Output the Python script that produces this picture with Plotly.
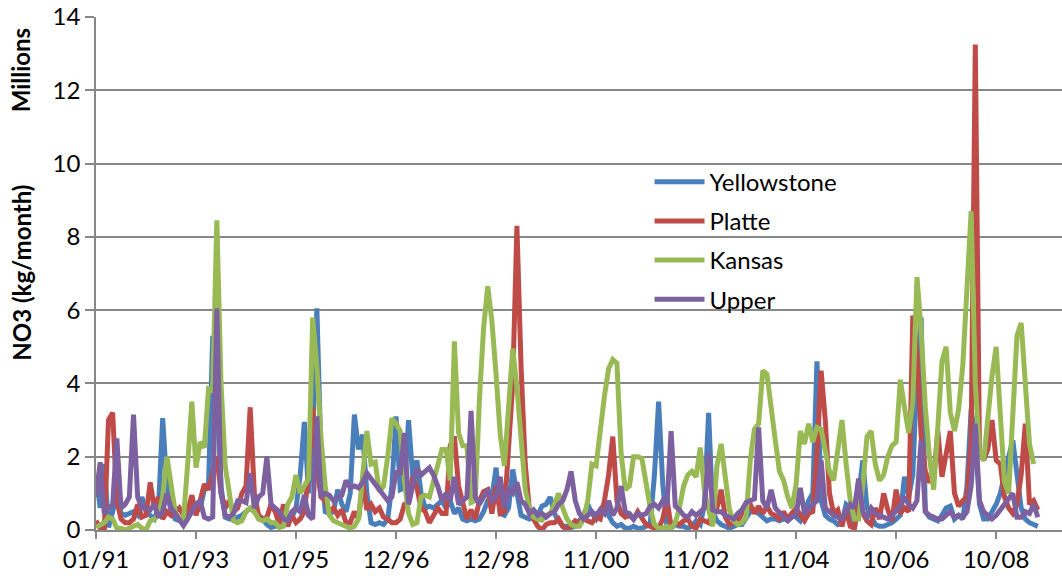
import plotly.graph_objects as go

# Monthly nitrate loads (millions of kg per month), one value per month
yellowstone = [
    1.5, 0.6, 1.8, 0.07, 0.5, 1.0, 0.45, 0.4, 0.45, 0.5,
    0.4, 0.9, 0.5, 0.4, 0.3, 0.6, 3.05, 1.2, 0.5, 0.3,
    0.25, 0.3, 0.4, 0.6, 0.5, 0.6, 1.1, 1.2, 5.3, 4.0,
    1.2, 0.35, 0.3, 0.3, 0.35, 0.4, 0.5, 0.6, 0.5, 0.4,
    0.3, 0.15, 0.07, 0.1, 0.25, 0.3, 0.2, 0.35, 0.6, 1.5,
    2.95, 1.0, 2.5, 6.05, 2.0, 0.5, 0.45, 0.5, 1.1, 0.7,
    0.5, 1.0, 3.15, 2.2, 2.6, 1.0, 0.2, 0.15, 0.2, 0.15,
    0.3, 1.2, 3.1, 1.1, 1.15, 3.0, 1.45, 1.9, 1.0, 0.6,
    0.65, 0.6, 0.7, 0.8, 0.6, 0.8, 0.45, 0.6, 0.3, 0.25,
    0.3, 0.25, 0.3, 0.5, 0.8, 0.9, 1.7, 0.45, 0.4, 0.6,
    1.65, 1.0, 0.4, 0.35, 0.3, 0.35, 0.4, 0.65, 0.7, 0.9,
    0.45, 0.25, 0.1, 0.1, 0.07, 0.1, 0.25, 0.4, 0.7, 0.45,
    0.3, 0.55, 0.7, 0.4, 0.2, 0.1, 0.15, 0.05, 0.05, 0.1,
    0.05, 0.05, 0.1, 0.2, 1.5, 3.5, 1.25, 0.1, 0.05, 0.15,
    0.1, 0.1, 0.05, 0.1, 0.25, 0.15, 0.7, 3.2, 0.5, 0.25,
    0.15, 0.1, 0.05, 0.1, 0.15, 0.15, 0.35, 0.5, 0.55, 0.45,
    0.35, 0.25, 0.3, 0.3, 0.25, 0.3, 0.3, 0.45, 0.35, 0.25,
    0.5, 0.8, 1.0, 4.6, 0.8, 0.4, 0.3, 0.25, 0.15, 0.2,
    0.7, 0.6, 0.05, 1.0, 1.9, 0.6, 0.35, 0.15, 0.1, 0.1,
    0.15, 0.2, 0.3, 0.4, 1.45, 0.9, 1.5, 4.3, 5.8, 0.5,
    0.35, 0.3, 0.25, 0.4, 0.6, 0.65, 0.3, 0.4, 0.3, 1.2,
    3.3, 2.45, 0.7, 0.3, 0.3, 0.5, 0.7, 1.0, 1.55, 2.0,
    2.45, 1.5, 0.6, 0.3, 0.2, 0.15, 0.1,
]

platte = [
    0.25, 0.05, 0.05, 3.0, 3.2, 0.8, 0.3, 0.2, 0.2, 0.3,
    0.7, 0.35, 0.4, 1.3, 0.6, 0.9, 0.3, 0.5, 0.4, 0.5,
    0.6, 0.4, 0.5, 0.95, 0.4, 0.8, 1.25, 1.1, 1.5, 2.0,
    1.0, 0.6, 0.8, 0.5, 0.6, 1.0, 1.2, 3.35, 1.0, 0.4,
    0.3, 0.35, 0.7, 0.5, 0.15, 0.7, 0.1, 0.4, 0.2, 0.3,
    0.5, 1.5, 3.35, 1.7, 0.9, 0.8, 0.5, 0.6, 0.4, 0.55,
    0.2, 0.2, 0.5, 0.3, 1.3, 0.55, 0.7, 0.5, 0.6, 0.35,
    0.3, 0.2, 0.2, 0.3, 0.7, 0.75, 1.45, 1.15, 0.6, 0.5,
    0.2, 0.4, 0.6, 0.45, 0.45, 2.3, 2.55, 1.2, 0.8, 0.3,
    0.55, 0.3, 0.8, 1.05, 1.1, 0.45, 1.2, 0.45, 0.5, 2.1,
    4.0, 8.3, 4.45, 1.8, 0.55, 0.3, 0.1, 0.0, 0.15, 0.2,
    0.2, 0.3, 0.1, 0.0, 0.15, 0.25, 0.2, 0.3, 0.25, 0.2,
    0.35, 0.3, 0.8, 1.5, 2.55, 0.8, 0.45, 0.35, 0.4, 0.3,
    0.5, 0.35, 0.15, 0.1, 0.05, 0.05, 0.3, 0.85, 0.1, 0.2,
    0.15, 0.25, 0.3, 0.1, 0.05, 0.3, 0.25, 0.2, 0.5, 0.6,
    1.1, 0.35, 0.15, 0.2, 0.25, 0.45, 0.55, 0.7, 0.45, 0.65,
    0.45, 0.65, 0.45, 0.4, 0.3, 0.5, 0.3, 0.45, 0.6, 0.4,
    0.25, 0.45, 0.5, 2.1, 4.35, 3.0, 1.0, 0.45, 0.55, 0.1,
    0.55, 0.1, 0.05, 0.8, 0.45, 0.25, 0.15, 0.6, 0.3, 1.0,
    0.55, 0.25, 1.1, 0.45, 0.6, 0.5, 5.85, 4.8, 2.55, 1.6,
    1.3, 1.45, 2.7, 1.45, 2.0, 2.7, 1.0, 0.65, 0.8, 0.9,
    2.5, 13.25, 2.1, 1.9, 2.2, 3.0, 1.9, 1.8, 0.9, 0.6,
    0.45, 0.7, 1.5, 2.9, 0.7, 0.8, 0.55,
]

kansas = [
    0.07, 0.15, 0.2, 0.35, 0.3, 0.05, 0.05, 0.0, 0.05, 0.1,
    0.15, 0.05, 0.0, 0.25, 0.3, 0.4, 0.9, 2.0, 1.3, 0.5,
    0.3, 0.3, 1.8, 3.5, 1.7, 2.4, 2.25, 3.85, 3.8, 8.45,
    4.0, 1.75, 1.0, 0.25, 0.2, 0.25, 0.5, 0.6, 0.5, 0.3,
    0.25, 0.3, 0.2, 0.2, 0.07, 0.1, 0.7, 0.9, 1.5, 1.0,
    1.2, 1.4, 5.8, 4.45, 2.5, 1.2, 0.4, 0.25, 0.2, 0.15,
    0.1, 0.05, 0.1, 0.3, 1.5, 2.7, 1.8, 1.85, 1.05, 1.2,
    2.0, 3.05, 2.9, 2.7, 1.35, 0.45, 0.15, 0.2, 0.9, 0.95,
    0.9, 1.3, 1.7, 2.2, 2.2, 1.35, 5.15, 2.65, 2.3, 2.3,
    0.75, 0.8, 3.55, 5.5, 6.65, 5.7, 4.25, 2.6, 1.75, 3.45,
    4.95, 3.9, 2.3, 1.1, 0.6, 0.35, 0.3, 0.27, 0.4, 0.45,
    0.7, 1.0, 0.6, 0.3, 0.15, 0.1, 0.1, 0.3, 0.8, 1.8,
    1.75, 2.8, 3.65, 4.4, 4.65, 4.55, 2.1, 1.1, 1.2, 2.0,
    2.0, 1.95, 1.2, 0.6, 0.15, 0.05, 0.05, 0.1, 0.05, 0.2,
    0.6, 1.2, 1.5, 1.6, 1.45, 2.25, 1.05, 0.5, 0.1, 1.75,
    2.35, 1.45, 0.55, 0.25, 0.15, 0.2, 0.35, 1.9, 2.75, 2.9,
    4.35, 4.25, 3.45, 2.45, 1.6, 1.35, 0.9, 0.6, 1.25, 2.7,
    2.35, 2.9, 2.4, 2.8, 2.75, 2.1, 1.6, 1.35, 2.3, 3.0,
    1.8, 0.8, 0.3, 0.3, 1.2, 2.55, 2.7, 1.8, 1.35, 1.5,
    2.0, 2.3, 2.4, 4.1, 3.35, 2.65, 3.5, 6.9, 5.45, 3.35,
    2.0, 1.1, 2.8, 4.6, 5.0, 3.2, 2.7, 3.3, 4.5, 6.5,
    8.7, 4.0, 2.1, 1.9, 3.1, 4.2, 5.0, 2.9, 1.3, 1.0,
    3.5, 5.3, 5.65, 4.0, 2.35, 1.8,
]

upper = [
    0.9, 1.85, 0.45, 0.6, 0.7, 2.5, 0.6, 0.7, 0.9, 3.15,
    0.9, 0.6, 0.6, 0.55, 0.7, 0.35, 0.5, 1.0, 0.6, 0.45,
    0.3, 0.12, 0.3, 0.5, 0.7, 0.8, 0.35, 0.3, 0.35, 6.05,
    1.0, 0.4, 0.35, 0.45, 0.8, 0.8, 0.75, 1.55, 0.6, 0.9,
    1.0, 2.0, 0.7, 0.6, 0.5, 0.3, 0.25, 0.5, 0.6, 0.5,
    0.95, 0.4, 0.3, 3.1, 0.9, 1.0, 0.95, 0.8, 0.9, 0.95,
    1.35, 1.15, 1.2, 1.15, 1.3, 1.55, 1.4, 1.2, 1.1, 0.9,
    0.8, 0.9, 1.6, 1.5, 2.65, 0.7, 1.2, 1.7, 1.5, 1.6,
    1.7, 1.5, 1.2, 0.8, 1.0, 0.8, 1.45, 0.7, 0.8, 0.9,
    3.25, 0.9, 0.7, 0.9, 1.1, 0.8, 0.9, 1.45, 0.6, 1.1,
    1.0, 1.3, 0.8, 0.7, 0.45, 0.55, 0.4, 0.45, 0.35, 0.45,
    0.5, 0.7, 0.8, 1.1, 1.6, 0.8, 0.45, 0.3, 0.4, 0.5,
    0.4, 0.55, 0.45, 0.8, 0.4, 0.6, 1.2, 0.5, 0.45, 0.3,
    0.45, 0.4, 0.45, 0.65, 0.7, 0.6, 0.8, 0.65, 2.7, 0.65,
    0.55, 0.4, 0.35, 0.5, 0.4, 0.5, 0.6, 2.1, 0.55, 0.5,
    0.5, 0.4, 0.35, 0.3, 0.45, 0.55, 0.75, 0.8, 0.85, 2.8,
    0.8, 0.6, 1.1, 0.6, 0.45, 0.35, 0.25, 0.35, 0.4, 1.15,
    0.45, 0.6, 0.7, 0.8, 1.9, 0.6, 0.5, 0.4, 0.35, 0.3,
    0.5, 0.7, 0.6, 1.4, 0.5, 0.35, 0.6, 0.45, 0.4, 0.35,
    0.3, 0.4, 0.55, 0.65, 0.9, 0.7, 0.6, 0.8, 2.45, 0.5,
    0.4, 0.35, 0.3, 0.3, 0.4, 0.5, 0.35, 0.4, 0.35, 0.5,
    1.2, 2.9, 0.8, 0.5, 0.4, 0.3, 0.4, 0.55, 0.7, 0.9,
    1.0, 0.35, 0.35, 0.5, 0.45, 0.7, 0.35,
]

tick_labels = ["01/91", "01/93", "01/95", "12/96", "12/98",
               "11/00", "11/02", "11/04", "10/06", "10/08"]
series_names = ["Yellowstone", "Platte", "Kansas", "Upper"]
series_colors = ["#4A7EBB", "#BE4B48", "#98B954", "#7D60A0"]

months = list(range(len(yellowstone)))
label_step = 24  # one axis label every 24 samples

FONT = "Lato"
GRID = "#878787"

fig = go.Figure()
for name, values, color in zip(series_names,
                               [yellowstone, platte, kansas, upper],
                               series_colors):
    fig.add_trace(go.Scatter(
        x=months, y=values, mode="lines", name=name, legendgroup=name,
        line=dict(color=color, width=5),
    ))

fig.update_layout(
    width=1062, height=586,
    margin=dict(l=96, r=0, t=17, b=56),
    paper_bgcolor="white", plot_bgcolor="white",
    font=dict(family=FONT, size=24, color="black"),
    showlegend=True,
    legend=dict(
        x=0.573, y=0.722, xanchor="left", yanchor="top",
        bgcolor="rgba(0,0,0,0)", font=dict(size=24),
        tracegroupgap=5, itemwidth=50,
    ),
    xaxis=dict(
        range=[0, 231.8],
        tickmode="array",
        tickvals=[i * label_step for i in range(len(tick_labels))],
        ticktext=tick_labels,
        ticks="outside", ticklen=7, tickcolor=GRID, tickwidth=1.5,
        showgrid=False, zeroline=False,
        showline=True, linecolor=GRID, linewidth=1.5,
        tickfont=dict(size=24),
    ),
    yaxis=dict(
        range=[0, 14], dtick=2, tick0=0,
        ticks="outside", ticklen=9, tickcolor=GRID, tickwidth=1.5,
        showgrid=True, gridcolor=GRID, gridwidth=1.5,
        zeroline=False,
        showline=True, linecolor=GRID, linewidth=1.5,
        tickfont=dict(size=24),
    ),
    annotations=[
        dict(text="<b>Millions</b>", textangle=-90, xref="paper", yref="paper",
             x=-0.078, y=0.984, xanchor="center", yanchor="top", showarrow=False,
             font=dict(size=24)),
        dict(text="<b>NO3 (kg/month)</b>", textangle=-90, xref="paper", yref="paper",
             x=-0.078, y=0.3255, xanchor="center", yanchor="bottom", showarrow=False,
             font=dict(size=24)),
    ],
)

fig.write_html("out.html")
